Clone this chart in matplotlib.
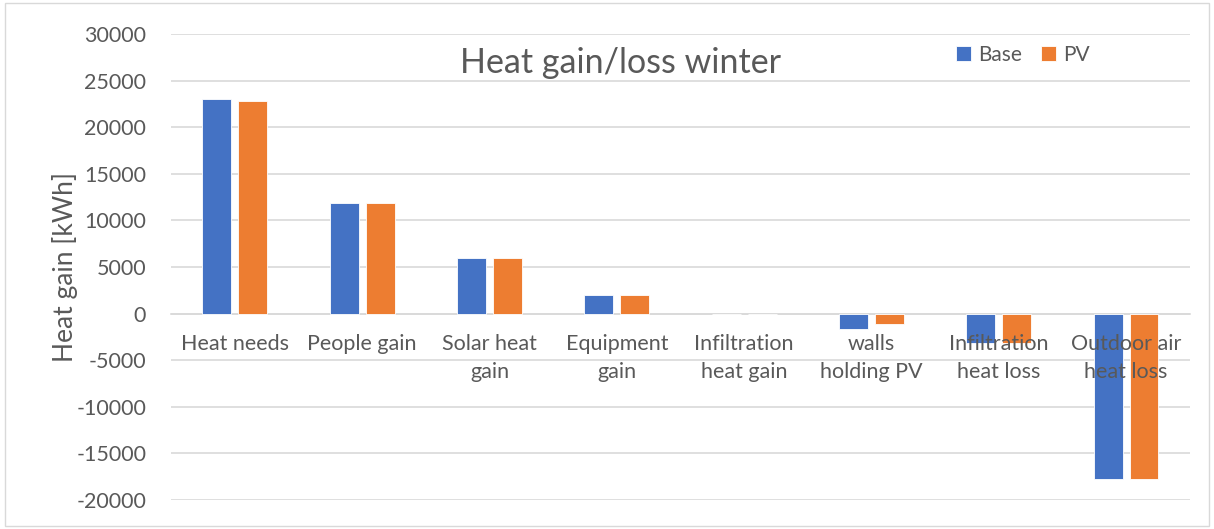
import matplotlib
matplotlib.use("Agg")
import matplotlib.pyplot as plt
import numpy as np
from matplotlib.patches import Rectangle

categories = ["Heat needs", "People gain", "Solar heat\ngain", "Equipment\ngain",
              "Infiltration\nheat gain", "walls\nholding PV", "Infiltration\nheat loss",
              "Outdoor air\nheat loss"]
base = [23000, 11900, 6000, 2000, 0, -1650, -3150, -17700]
pv = [22800, 11900, 6000, 2000, 0, -1100, -3100, -17700]
yticks = list(range(-20000, 30001, 5000))

BLUE = "#4472C4"
ORANGE = "#ED7D31"
TXT = "#595959"
GRID = "#D9D9D9"

plt.rcParams['font.family'] = ['Lato', 'DejaVu Sans']

fig = plt.figure(figsize=(12.14, 5.29), dpi=100)
ax = fig.add_axes([0.141, 0.0548, 0.839, 0.8809])

x = np.arange(len(categories))
w = 0.227
off = 0.141
ax.bar(x - off, base, w, color=BLUE, edgecolor="white", linewidth=0.6, label="Base", zorder=3)
ax.bar(x + off, pv, w, color=ORANGE, edgecolor="white", linewidth=0.6, label="PV", zorder=3)

ax.set_xlim(-0.5, len(categories) - 0.5)
ax.set_ylim(-20000, 30000)
ax.set_yticks(yticks)
ax.set_yticklabels([str(t) for t in yticks], fontsize=15.5, color=TXT)
ax.grid(axis="y", color=GRID, linewidth=1.2, zorder=0)
ax.set_axisbelow(True)

for s in ["top", "right", "left"]:
    ax.spines[s].set_visible(False)
ax.spines["bottom"].set_position(("data", 0))
ax.spines["bottom"].set_color(GRID)
ax.spines["bottom"].set_linewidth(1.2)

ax.set_xticks(x)
ax.set_xticklabels(categories, fontsize=15.5, color=TXT, linespacing=1.5)
ax.tick_params(axis="x", length=0, pad=15)
ax.tick_params(axis="y", length=0, pad=18)
ax.xaxis.set_zorder(5)

ax.set_ylabel("Heat gain [kWh]", fontsize=19, color=TXT, labelpad=-1)

fig.text(0.511, 0.88, "Heat gain/loss winter", fontsize=24.5, color=TXT, ha="center", va="center")

leg = ax.legend(loc="center left", bbox_to_anchor=(0.781, 0.896), bbox_transform=fig.transFigure,
                ncol=2, frameon=False, fontsize=15, handlelength=0.7, handleheight=0.7,
                handletextpad=0.35, columnspacing=0.9, borderaxespad=0)
for t in leg.get_texts():
    t.set_color(TXT)

fig.patches.append(Rectangle((0.004, 0.006), 0.992, 0.988, transform=fig.transFigure,
                             fill=False, edgecolor=GRID, linewidth=1.0))

fig.savefig("out.png", dpi=100)
